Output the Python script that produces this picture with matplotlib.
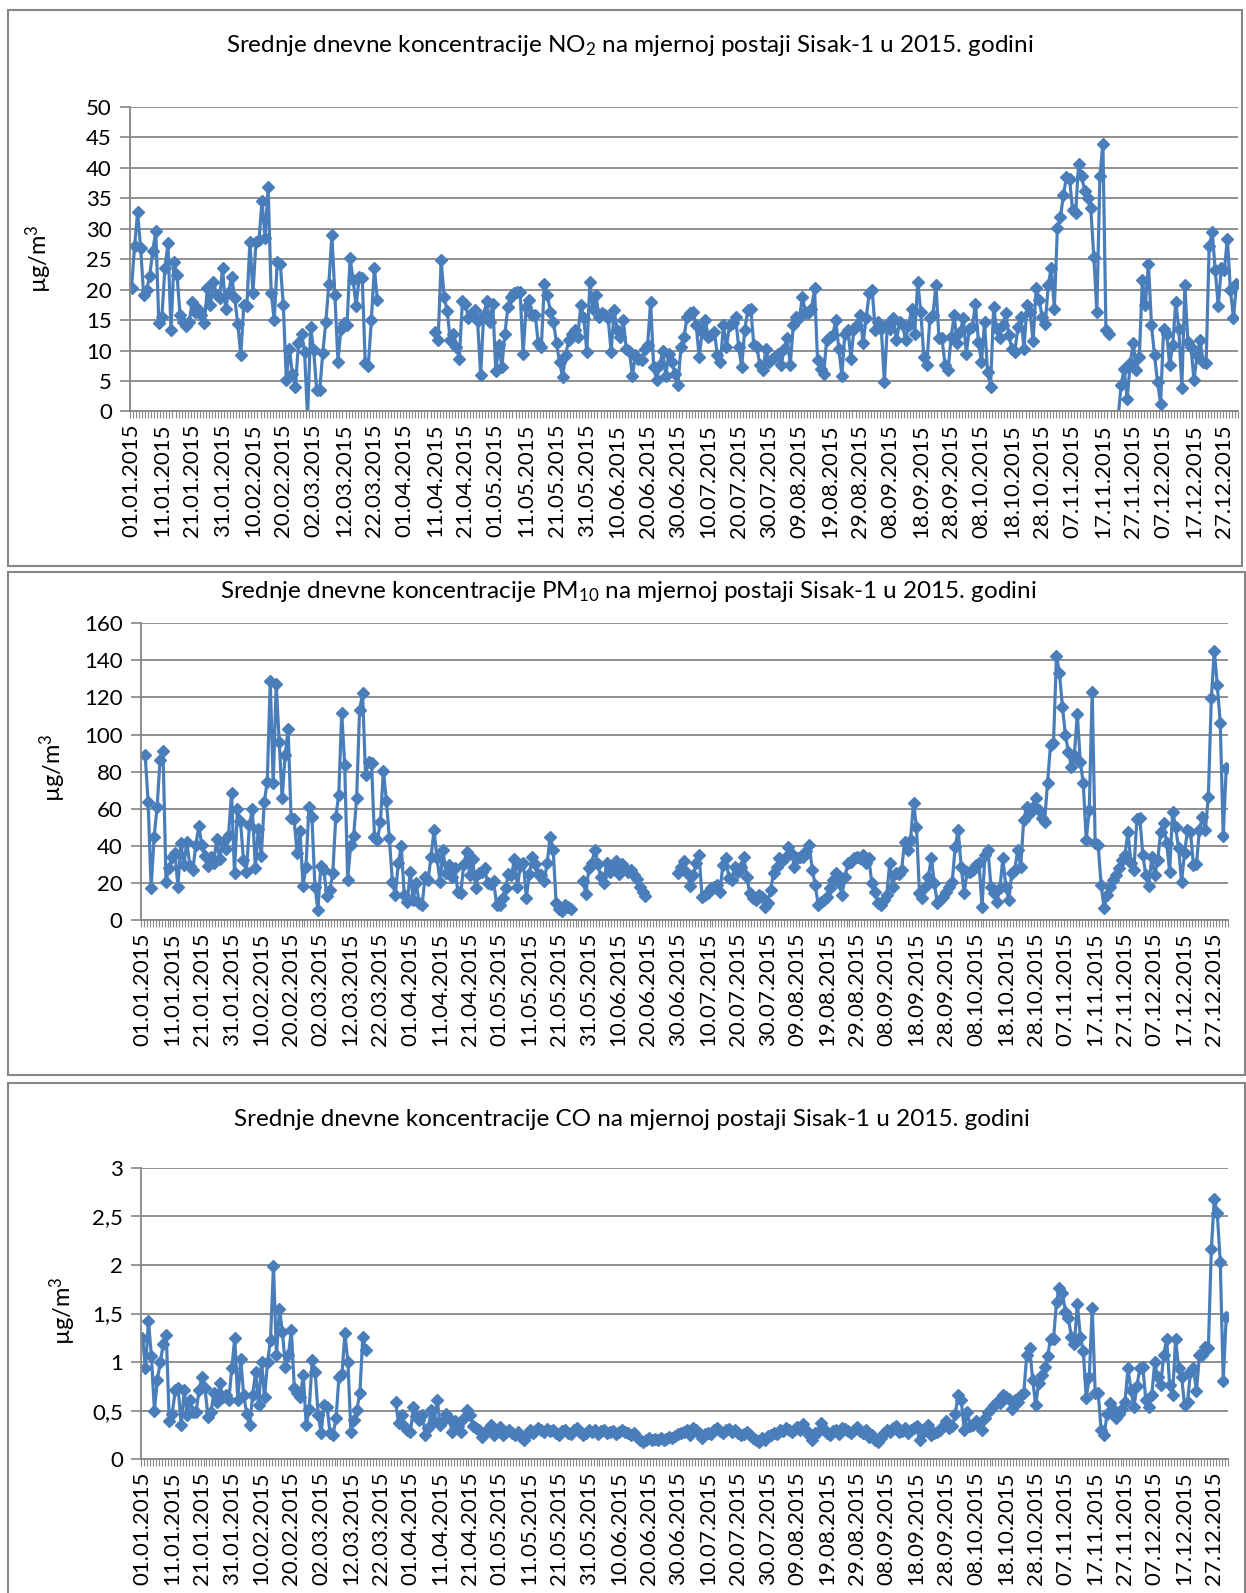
import numpy as np
import pandas as pd
import matplotlib
matplotlib.use('Agg')
import matplotlib.pyplot as plt
from matplotlib.patches import Rectangle
from matplotlib.ticker import FuncFormatter

#%% daily means, one list per month (None = no data)
NO2_JAN = [20.3, 27.1, 32.7, 26.9, 19.1, 20, 22.3, 26.4, 29.6, 14.5, 15.5, 23.6, 27.6, 13.4, 24.6, 22.4,
           15.8, 14.7, 14, 14.7, 18, 16.4, 16.9, 15.8, 14.6, 20.3, 17.5, 21.3, 19.1, 18.6, 23.6]
NO2_FEB = [16.8, 19.7, 22.1, 18.7, 14.3, 9.3, 17.5, 17.4, 27.9, 19.4, 27.9, 28.2, 34.6, 28.5, 36.8, 19.5,
           15, 24.6, 24.3, 17.5, 5.1, 10.3, 6.2, 4, 11.2, 12.8, 9.8, -1]
NO2_MAR = [13.8, 10.1, 3.5, 3.5, 9.6, 14.7, 20.9, 29, 19.1, 8.2, 13.6, 14.5, 14.2, 25.2, 21.6, 17.3,
           22.1, 22, 7.9, 7.5, 15, 23.5, 18.3] + [None] * 8
NO2_APR = [None] * 10 + [13, 11.7, 24.8, 18.8, 16.5, 11.7, 12.8, 10.6, 8.7, 18.1, 17.7, 15.3, 16.1, 16.6,
                         14.8, 6, 15.8, 18.1, 14.7, 17.7]
NO2_MAY = [6.6, 10.9, 7.3, 12.8, 17.2, 18.8, 19.4, 19.7, 19.7, 9.5, 17.2, 18.3, 15.8, 15.8, 11.2, 10.6,
           21, 19.1, 16.4, 14.7, 11.2, 8.1, 5.7, 9.2, 11.7, 12.8, 13.4, 12.2, 17.5, 15.3, 9.8]
NO2_JUN = [21.3, 16.9, 19.1, 15.5, 16.1, 15.8, 15.3, 9.8, 16.6, 13.4, 12.2, 15, 10.3, 10, 5.9, 9.2,
           8.7, 8.4, 10.3, 10.9, 18, 7.3, 5.1, 7.6, 10, 5.9, 9.5, 8.1, 6.2, 4.3]
NO2_JUL = [10.6, 12.2, 15.5, 16.1, 16.4, 14.2, 9, 13.1, 15, 12.2, 12.5, 13.1, 9.2, 8.1, 14.2, 10.6,
           14.2, 14.5, 15.5, 10.6, 7.3, 13.4, 16.6, 16.9, 10.9, 10.6, 7.6, 6.8, 10.3, 8.1, 8.7]
NO2_AUG = [9, 9.5, 7.6, 10.3, 12, 7.6, 14.2, 15.5, 15.3, 18.8, 16.4, 16.1, 16.9, 20.2, 8.4, 7, 6.2,
           11.7, 12.2, 12.5, 15, 10.3, 5.9, 12.8, 13.4, 8.7, 13.6, 14.2, 15.8, 11.2, 15.3]
NO2_SEP = [19.4, 19.9, 13.4, 14.7, 13.6, 4.8, 14.2, 13.6, 15.3, 11.7, 14.7, 14.2, 11.7, 14.2, 16.9,
           12.8, 21.3, 16.4, 9, 7.6, 15.3, 15.8, 20.8, 12, 12, 7.6, 6.8, 12.2, 15.8, 11.2]
NO2_OCT = [13.1, 15.3, 9.5, 13.6, 13.9, 17.7, 11.4, 8.1, 14.7, 6.5, 4.1, 17.1, 13.6, 12, 14.2, 16.1,
           12.5, 10.3, 9.8, 13.9, 15.5, 10.3, 17.5, 16.4, 11.5, 20.2, 18.3, 15.5, 14.3, 20.8, 23.6]
NO2_NOV = [16.9, 30.1, 31.9, 35.6, 38.5, 38.2, 33.1, 32.6, 40.7, 38.6, 36.2, 35, 33.4, 25.4, 16.4,
           38.6, 44, 13.4, 12.8, None, None, -1, 4.3, 7, 2.1, 7.9, 11.2, 6.8, 9, 21.6]
NO2_DEC = [17.5, 24.3, 14.2, 9.2, 4.8, 1.3, 13.6, 12.8, 7.6, 10.9, 18, 13.6, 3.8, 20.7, 11.4, 10.6,
           5.1, 9.2, 11.7, 8.1, 7.9, 27.1, 29.5, 23.2, 17.3, 23.6, 23.2, 28.4, 19.9, 15.4, 20.9]

PM_JAN = [None, 89, 63.5, 17.4, 44.6, 60.8, 86.3, 91.3, 20.7, 27.9, 33.8, 36.3, 18, 41.3, 29.7, 42.2,
          29.1, 27, 40.4, 50.7, 40.4, 34.5, 29.1, 34.2, 30.6, 43.5, 32.7, 42.2, 38.1, 45.8, 68.7]
PM_FEB = [25.2, 59.7, 53.4, 32.4, 26.1, 51.2, 59.7, 27.9, 48.9, 34.5, 63.8, 74.6, 129, 73.7, 127.3,
          96.2, 65.6, 89, 103, 54.8, 54.3, 36.3, 48.2, 18.3, 28.8, 61.1, 55.4, 18]
PM_MAR = [5.4, 29.1, 27, 12.9, 16.2, 25.2, 55.4, 67.4, 111.8, 83.6, 21.6, 40.4, 45.3, 65.6, 113.3,
          122.2, 78.2, 85.4, 84.5, 44.9, 43.1, 53, 80.5, 64.4, 44, 20.7, 13.5, 30.6, 39.9, 13.5, 9.9]
PM_APR = [26.1, 10.8, 19.8, 9.3, 8.1, 23.4, 21.6, 34.2, 48.5, 33.3, 20.7, 37.8, 25.2, 29.7, 23.4,
          27.9, 15.3, 14.7, 30.2, 36.9, 24.3, 32.7, 17.1, 25.2, 26.1, 27.9, 19.8, 19.4, 21.2, 8.1]
PM_MAY = [8.1, 12, 17, 25, 24, 33, 18, 29, 31, 12, 25, 34, 30, 25, 24, 21, 31, 45, 38, 9, 6, 5, 8, 7,
          6, None, None, None, 21, 14, 28]
PM_JUN = [31, 38, 30, 23, 20, 31, 26, 28, 32, 25, 30, 28, 26, 27, 24, 22, 18, 15, 13] + [None] * 10 + [25.2]
PM_JUL = [28.8, 32, 25.2, 18.3, 24, 30.6, 35, 12.6, 13.5, 14.4, 17.1, 18, 18.9, 15.3, 29.7, 33.3,
          22.5, 21.6, 28.8, 26, 28.8, 34.2, 23.4, 14.4, 12, 10.8, 13.5, 12.6, 7.2, 9, 16.2]
PM_AUG = [25.2, 28.8, 33.3, 32, 33.3, 39.6, 36, 28.8, 33.3, 34.2, 34.2, 37, 40.5, 27, 18.9, 8.1, 9.9,
          11, 12.6, 17.1, 21.6, 25.2, 19.8, 13.5, 23.4, 30.6, 31.5, 33.3, 34.2, 33.3, 35]
PM_SEP = [30.6, 33.3, 19.8, 15, 9, 8.1, 10.8, 13.5, 30.6, 18, 25.2, 25, 27, 42.2, 37.8, 43.1, 63.3,
          50.3, 14.4, 11.7, 18, 23.4, 33.3, 19.8, 9, 10.8, 12.6, 15.3, 18, 20.7]
PM_OCT = [39.6, 48.5, 28.8, 14.4, 26.1, 26.1, 27, 29.7, 30.6, 7.2, 35, 37.8, 18, 14.4, 9.9, 17.1,
          33.3, 18, 10.8, 25.2, 27, 37.8, 28.8, 53.9, 61.1, 57.5, 61.1, 65.6, 59.3, 54.8, 53]
PM_NOV = [73.7, 94.4, 95.3, 142.4, 133.4, 115, 99.8, 90.8, 82.7, 89, 111.1, 85.4, 73.7, 43.1, 59.3,
          123.1, 41.3, 40.4, 18.9, 6.3, 13.5, 18, 21.6, 24.3, 27.9, 32.4, 35, 47.6, 30.6, 27]
PM_DEC = [54.3, 54.8, 35, 24.3, 18.3, 34.2, 24.3, 32.4, 47.6, 52.1, 41.3, 26.1, 58.4, 50.3, 38.7,
          20.7, 36, 48.5, 47.6, 29.7, 30, 48.5, 55.7, 48.5, 66.5, 119.6, 145.3, 126.7, 106.1, 45.3, 81.8]

CO_JAN = [1.25, 0.94, 1.42, 1.06, 0.5, 0.82, 1.0, 1.19, 1.28, 0.39, 0.47, 0.71, 0.73, 0.35, 0.71, 0.46,
          0.61, 0.49, 0.49, 0.71, 0.85, 0.73, 0.44, 0.49, 0.68, 0.59, 0.78, 0.64, 0.66, 0.61, 0.94]
CO_FEB = [1.25, 0.61, 1.03, 0.66, 0.47, 0.35, 0.66, 0.9, 0.56, 1.0, 0.64, 1.0, 1.23, 1.99, 1.07, 1.55,
          1.31, 0.95, 1.07, 1.33, 0.73, 0.68, 0.64, 0.87, 0.35, 0.52, 1.02, 0.9]
CO_MAR = [0.46, 0.27, 0.56, 0.54, 0.27, 0.25, 0.42, 0.85, 0.88, 1.3, 1.0, 0.28, 0.4, 0.51, 0.68, 1.26,
          1.12] + [None] * 9 + [0.59, 0.37, 0.46, 0.34, 0.3]
CO_APR = [0.28, 0.54, 0.45, 0.4, 0.46, 0.25, 0.32, 0.51, 0.39, 0.61, 0.35, 0.39, 0.47, 0.42, 0.28,
          0.39, 0.34, 0.28, 0.42, 0.51, 0.46, 0.34, 0.32, 0.3, 0.23, 0.28, 0.3, 0.35, 0.25, 0.3]
CO_MAY = [0.33, 0.25, 0.28, 0.3, 0.27, 0.25, 0.28, 0.23, 0.2, 0.25, 0.3, 0.27, 0.29, 0.32, 0.3, 0.28,
          0.31, 0.29, 0.3, 0.27, 0.25, 0.29, 0.3, 0.27, 0.26, 0.3, 0.32, 0.28, 0.25, 0.27, 0.3]
CO_JUN = [0.28, 0.3, 0.26, 0.29, 0.3, 0.27, 0.28, 0.29, 0.26, 0.28, 0.3, 0.28, 0.27, 0.25, 0.27, 0.23,
          0.2, 0.18, 0.2, 0.22, 0.2, 0.21, 0.2, 0.22, 0.2, 0.21, 0.23, 0.22, 0.24, 0.26]
CO_JUL = [0.27, 0.28, 0.3, 0.25, 0.32, 0.3, 0.27, 0.22, 0.26, 0.27, 0.26, 0.3, 0.32, 0.29, 0.27, 0.3,
          0.31, 0.28, 0.3, 0.27, 0.25, 0.26, 0.28, 0.25, 0.22, 0.2, 0.18, 0.22, 0.2, 0.24, 0.25]
CO_AUG = [0.27, 0.26, 0.3, 0.29, 0.32, 0.3, 0.28, 0.31, 0.33, 0.3, 0.36, 0.3, 0.25, 0.2, 0.27, 0.28,
          0.37, 0.31, 0.27, 0.25, 0.29, 0.3, 0.26, 0.32, 0.31, 0.29, 0.27, 0.3, 0.33, 0.29, 0.27]
CO_SEP = [0.3, 0.23, 0.25, 0.2, 0.18, 0.22, 0.27, 0.3, 0.28, 0.32, 0.34, 0.28, 0.29, 0.32, 0.27, 0.3,
          0.32, 0.34, 0.2, 0.28, 0.32, 0.35, 0.25, 0.27, 0.28, 0.3, 0.34, 0.39, 0.32, 0.34]
CO_OCT = [0.47, 0.66, 0.61, 0.3, 0.49, 0.34, 0.35, 0.39, 0.36, 0.3, 0.42, 0.49, 0.52, 0.56, 0.59, 0.58,
          0.66, 0.64, 0.62, 0.52, 0.61, 0.59, 0.66, 0.68, 1.07, 1.14, 0.82, 0.56, 0.78, 0.87, 0.95]
CO_NOV = [1.06, 1.24, 1.24, 1.62, 1.76, 1.71, 1.52, 1.45, 1.26, 1.19, 1.6, 1.26, 1.11, 0.63, 0.85, 1.56,
          0.68, 0.68, 0.3, 0.25, 0.47, 0.58, 0.52, 0.42, 0.47, 0.52, 0.59, 0.94, 0.71, 0.54]
CO_DEC = [0.75, 0.94, 0.95, 0.61, 0.54, 0.66, 1.0, 0.85, 0.76, 1.07, 1.24, 0.76, 0.66, 1.24, 0.94, 0.85,
          0.56, 0.59, 0.9, 0.94, 0.7, 1.07, 1.07, 1.16, 1.14, 2.16, 2.68, 2.53, 2.03, 0.81, 1.46]

TITLES = ['Srednje dnevne koncentracije NO$_2$ na mjernoj postaji Sisak-1 u 2015. godini',
          'Srednje dnevne koncentracije PM$_{10}$ na mjernoj postaji Sisak-1 u 2015. godini',
          'Srednje dnevne koncentracije CO na mjernoj postaji Sisak-1 u 2015. godini']
YLABEL = 'µg/m$^3$'

#%% style
BLUE = '#4A7EBB'
GRID = '#868686'
W, H = 1246, 1593
plt.rcParams['font.family'] = ['Lato', 'DejaVu Sans']
plt.rcParams['mathtext.fontset'] = 'custom'
plt.rcParams['mathtext.rm'] = 'Lato'
plt.rcParams['mathtext.it'] = 'Lato:italic'
plt.rcParams['mathtext.default'] = 'regular'
FS_TICK = 16
FS_TITLE = 17.5
FS_YLAB = 17

dates = pd.date_range('2015-01-01', '2015-12-31', freq='D')
day = np.arange(len(dates))


def year(*months):
    vals = [np.nan if v is None else v for m in months for v in m]
    assert len(vals) == 365, len(vals)
    return np.array(vals, float)


no2 = year(NO2_JAN, NO2_FEB, NO2_MAR, NO2_APR, NO2_MAY, NO2_JUN, NO2_JUL, NO2_AUG, NO2_SEP, NO2_OCT, NO2_NOV, NO2_DEC)
pm10 = year(PM_JAN, PM_FEB, PM_MAR, PM_APR, PM_MAY, PM_JUN, PM_JUL, PM_AUG, PM_SEP, PM_OCT, PM_NOV, PM_DEC)
co = year(CO_JAN, CO_FEB, CO_MAR, CO_APR, CO_MAY, CO_JUN, CO_JUL, CO_AUG, CO_SEP, CO_OCT, CO_NOV, CO_DEC)

fig = plt.figure(figsize=(W / 100, H / 100), dpi=100)


def px_axes(x0, x1, y0, y1):
    # pixel box (from top-left) -> figure fraction
    return fig.add_axes([x0 / W, 1 - y1 / H, (x1 - x0) / W, (y1 - y0) / H])


def box(x0, x1, y0, y1):
    fig.add_artist(Rectangle((x0 / W, 1 - y1 / H), (x1 - x0) / W, (y1 - y0) / H,
                             transform=fig.transFigure, fill=False, ec=GRID, lw=1.5))


def panel(ax, values, ymax, step, comma=False):
    ax.plot(day, values, color=BLUE, lw=2.3, marker='D', ms=6, mec=BLUE, mfc=BLUE)
    ax.set_xlim(-0.5, 364.5)
    ax.set_ylim(0, ymax)
    ax.set_yticks(np.arange(0, ymax + step / 2, step))
    if comma:
        ax.yaxis.set_major_formatter(FuncFormatter(lambda v, p: f'{v:g}'.replace('.', ',')))
    ax.yaxis.grid(True, color=GRID, lw=1.3)
    ax.set_axisbelow(True)
    for s in ['top', 'right']:
        ax.spines[s].set_visible(False)
    for s in ['left', 'bottom']:
        ax.spines[s].set_color(GRID)
        ax.spines[s].set_linewidth(1.3)
    ax.set_xticks(day[::10])
    ax.set_xticklabels(dates[::10].strftime('%d.%m.%Y'), rotation=90)
    ax.set_xticks(np.arange(-0.5, 365, 1), minor=True)
    ax.tick_params(axis='x', which='major', length=0, pad=9, labelsize=FS_TICK)
    ax.tick_params(axis='x', which='minor', length=5, color=GRID, width=0.8)
    ax.tick_params(axis='y', length=7, color=GRID, width=1.2, pad=6, labelsize=FS_TICK)


#%% NO2
box(8, 1242, 10, 566)
ax1 = px_axes(130, 1238, 107, 411.5)
panel(ax1, no2, 50, 5)
fig.text(630 / W, 1 - 46 / H, TITLES[0], ha='center', va='center', fontsize=FS_TITLE)
fig.text(39 / W, 1 - 259 / H, YLABEL, ha='center', va='center', rotation=90, fontsize=FS_YLAB)

#%% PM10
box(8, 1245, 572, 1075)
ax2 = px_axes(140.7, 1227.7, 623.3, 920)
panel(ax2, pm10, 160, 20)
fig.text(628 / W, 1 - 592 / H, TITLES[1], ha='center', va='center', fontsize=FS_TITLE)
fig.text(53 / W, 1 - 768 / H, YLABEL, ha='center', va='center', rotation=90, fontsize=FS_YLAB)

#%% CO
box(8, 1245, 1083, 1620)
ax3 = px_axes(141, 1227.7, 1167.7, 1459.3)
panel(ax3, co, 3, 0.5, comma=True)
fig.text(632 / W, 1 - 1120 / H, TITLES[2], ha='center', va='center', fontsize=FS_TITLE)
fig.text(63 / W, 1 - 1311 / H, YLABEL, ha='center', va='center', rotation=90, fontsize=FS_YLAB)

fig.savefig('out.png', dpi=100)
